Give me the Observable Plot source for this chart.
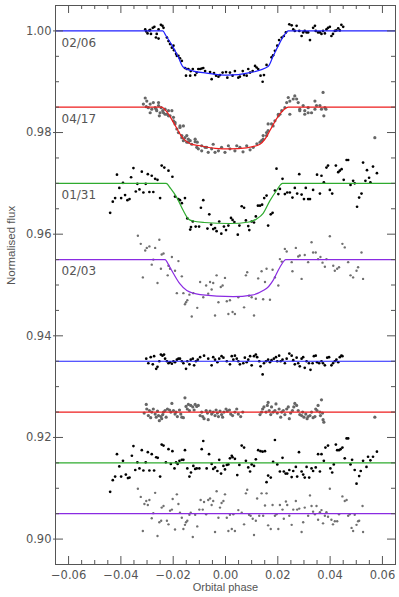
<!DOCTYPE html>
<html>
<head>
<meta charset="utf-8">
<script src="https://cdn.jsdelivr.net/npm/d3@7"></script>
<script src="https://cdn.jsdelivr.net/npm/@observablehq/plot@0.6"></script>
<style>
  html, body { margin: 0; padding: 0; background: #fff; }
  #chart { width: 399px; height: 597px; }
</style>
</head>
<body>
<div id="chart"></div>
<script>
// ---------- data ----------
const nightLabels = ["02/06", "04/17", "01/31", "02/03"];
const curveLevels = [1.000, 0.985, 0.970, 0.955];
const residualLevels = [0.935, 0.925, 0.915, 0.905];

const xMajorTicks = [-0.06, -0.04, -0.02, 0.00, 0.02, 0.04, 0.06];
const xMinorTicks = [-0.065, -0.055, -0.05, -0.045, -0.035, -0.03, -0.025, -0.015, -0.01, -0.005,
                     0.005, 0.01, 0.015, 0.025, 0.03, 0.035, 0.045, 0.05, 0.055, 0.065];
const yMajorTicks = [0.90, 0.92, 0.94, 0.96, 0.98, 1.00];
const yMinorTicks = [0.895, 0.905, 0.91, 0.915, 0.925, 0.93, 0.935, 0.945, 0.95, 0.955, 0.965,
                     0.97, 0.975, 0.985, 0.99, 0.995, 1.005];

// light curve 02/06 (phase, flux)
const data0206 = [[-0.0307,1.0003],[-0.0303,0.9999],[-0.0298,0.9995],[-0.0291,1.0001],[-0.0288,1.0002],[-0.0285,0.9994],[-0.0278,1.0006],[-0.0272,1.0008],[-0.0266,0.9987],[-0.0263,0.9994],[-0.0256,0.9985],[-0.0256,1.0003],[-0.0247,1.0012],[-0.0241,1.0010],[-0.0237,1.0006],[-0.0224,0.9987],[-0.0218,0.9980],[-0.0212,0.9974],[-0.0205,0.9967],[-0.0199,0.9971],[-0.0197,0.9962],[-0.0189,0.9955],[-0.0186,0.9951],[-0.0180,0.9951],[-0.0174,0.9946],[-0.0167,0.9941],[-0.0155,0.9927],[-0.0151,0.9912],[-0.0148,0.9925],[-0.0142,0.9925],[-0.0135,0.9912],[-0.0133,0.9921],[-0.0125,0.9925],[-0.0116,0.9913],[-0.0110,0.9918],[-0.0104,0.9925],[-0.0097,0.9925],[-0.0091,0.9926],[-0.0085,0.9927],[-0.0078,0.9921],[-0.0059,0.9919],[-0.0053,0.9905],[-0.0044,0.9917],[-0.0036,0.9912],[-0.0027,0.9910],[-0.0021,0.9913],[-0.0011,0.9918],[0.0002,0.9919],[0.0007,0.9908],[0.0017,0.9918],[0.0027,0.9912],[0.0036,0.9921],[0.0049,0.9908],[0.0055,0.9910],[0.0066,0.9921],[0.0071,0.9913],[0.0081,0.9912],[0.0087,0.9925],[0.0094,0.9918],[0.0104,0.9921],[0.0113,0.9931],[0.0119,0.9928],[0.0125,0.9925],[0.0134,0.9912],[0.0142,0.9900],[0.0147,0.9913],[0.0157,0.9933],[0.0176,0.9948],[0.0182,0.9952],[0.0189,0.9961],[0.0198,0.9971],[0.0205,0.9982],[0.0215,0.9987],[0.0223,0.9990],[0.0231,0.9997],[0.0244,1.0013],[0.0253,1.0011],[0.0259,1.0003],[0.0265,1.0000],[0.0272,1.0010],[0.0282,1.0000],[0.0291,0.9990],[0.0297,0.9997],[0.0303,1.0000],[0.0310,0.9997],[0.0316,0.9997],[0.0323,0.9982],[0.0335,1.0006],[0.0342,1.0010],[0.0345,1.0000],[0.0354,0.9997],[0.0361,0.9997],[0.0367,0.9994],[0.0373,1.0000],[0.0380,0.9995],[0.0386,1.0003],[0.0392,1.0006],[0.0399,1.0008],[0.0405,0.9990],[0.0411,0.9994],[0.0418,1.0000],[0.0424,1.0001],[0.0431,1.0005],[0.0437,1.0001],[0.0443,1.0012],[0.0450,1.0008]];

// light curve 04/17
const data0417 = [[-0.0314,0.9856],[-0.0307,0.9868],[-0.0303,0.9851],[-0.0301,0.9862],[-0.0295,0.9849],[-0.0288,0.9839],[-0.0288,0.9856],[-0.0282,0.9846],[-0.0276,0.9859],[-0.0269,0.9849],[-0.0265,0.9846],[-0.0263,0.9843],[-0.0256,0.9853],[-0.0256,0.9859],[-0.0253,0.9833],[-0.0250,0.9839],[-0.0246,0.9849],[-0.0240,0.9843],[-0.0237,0.9839],[-0.0231,0.9846],[-0.0231,0.9836],[-0.0224,0.9836],[-0.0218,0.9843],[-0.0218,0.9833],[-0.0212,0.9833],[-0.0205,0.9843],[-0.0199,0.9830],[-0.0199,0.9823],[-0.0193,0.9820],[-0.0193,0.9817],[-0.0186,0.9807],[-0.0180,0.9800],[-0.0174,0.9813],[-0.0174,0.9810],[-0.0167,0.9794],[-0.0167,0.9790],[-0.0161,0.9784],[-0.0161,0.9813],[-0.0155,0.9790],[-0.0148,0.9781],[-0.0148,0.9794],[-0.0142,0.9787],[-0.0142,0.9781],[-0.0135,0.9784],[-0.0129,0.9777],[-0.0116,0.9787],[-0.0116,0.9782],[-0.0110,0.9771],[-0.0108,0.9781],[-0.0104,0.9768],[-0.0091,0.9764],[-0.0091,0.9774],[-0.0078,0.9771],[-0.0072,0.9771],[-0.0066,0.9761],[-0.0053,0.9768],[-0.0047,0.9777],[-0.0040,0.9761],[-0.0027,0.9764],[-0.0015,0.9771],[-0.0002,0.9761],[0.0011,0.9774],[0.0017,0.9768],[0.0036,0.9764],[0.0043,0.9774],[0.0055,0.9771],[0.0067,0.9762],[0.0081,0.9774],[0.0094,0.9766],[0.0106,0.9771],[0.0120,0.9778],[0.0132,0.9781],[0.0138,0.9784],[0.0144,0.9787],[0.0144,0.9794],[0.0157,0.9794],[0.0157,0.9800],[0.0163,0.9804],[0.0163,0.9817],[0.0176,0.9817],[0.0182,0.9813],[0.0189,0.9823],[0.0202,0.9833],[0.0202,0.9836],[0.0208,0.9836],[0.0215,0.9843],[0.0227,0.9849],[0.0234,0.9859],[0.0240,0.9869],[0.0246,0.9836],[0.0246,0.9862],[0.0259,0.9866],[0.0265,0.9872],[0.0272,0.9866],[0.0278,0.9859],[0.0284,0.9846],[0.0284,0.9843],[0.0297,0.9853],[0.0303,0.9843],[0.0303,0.9836],[0.0316,0.9849],[0.0316,0.9839],[0.0329,0.9839],[0.0342,0.9846],[0.0342,0.9862],[0.0348,0.9853],[0.0361,0.9853],[0.0367,0.9846],[0.0373,0.9879],[0.0376,0.9833],[0.0380,0.9849],[0.0384,0.9846],[0.0571,0.9790]];

// light curve 01/31
const data0131 = [[-0.0441,0.9642],[-0.0431,0.9664],[-0.0422,0.9671],[-0.0415,0.9717],[-0.0406,0.9691],[-0.0399,0.9671],[-0.0392,0.9701],[-0.0384,0.9677],[-0.0375,0.9667],[-0.0367,0.9669],[-0.0361,0.9712],[-0.0352,0.9730],[-0.0343,0.9684],[-0.0337,0.9699],[-0.0329,0.9688],[-0.0320,0.9723],[-0.0314,0.9682],[-0.0305,0.9699],[-0.0297,0.9718],[-0.0291,0.9683],[-0.0282,0.9715],[-0.0276,0.9683],[-0.0269,0.9709],[-0.0260,0.9707],[-0.0250,0.9671],[-0.0244,0.9735],[-0.0234,0.9731],[-0.0218,0.9725],[-0.0203,0.9713],[-0.0193,0.9674],[-0.0180,0.9669],[-0.0174,0.9667],[-0.0167,0.9661],[-0.0155,0.9671],[-0.0146,0.9631],[-0.0135,0.9609],[-0.0132,0.9614],[-0.0125,0.9625],[-0.0114,0.9615],[-0.0101,0.9615],[-0.0094,0.9652],[-0.0085,0.9667],[-0.0069,0.9611],[-0.0062,0.9639],[-0.0055,0.9619],[-0.0047,0.9610],[-0.0040,0.9612],[-0.0034,0.9606],[-0.0024,0.9625],[-0.0016,0.9601],[-0.0006,0.9615],[0.0002,0.9608],[0.0011,0.9617],[0.0021,0.9632],[0.0027,0.9628],[0.0034,0.9624],[0.0047,0.9599],[0.0053,0.9617],[0.0062,0.9655],[0.0071,0.9652],[0.0078,0.9627],[0.0087,0.9616],[0.0091,0.9608],[0.0100,0.9625],[0.0109,0.9623],[0.0116,0.9635],[0.0124,0.9656],[0.0132,0.9656],[0.0140,0.9658],[0.0148,0.9671],[0.0157,0.9676],[0.0163,0.9617],[0.0173,0.9639],[0.0180,0.9642],[0.0189,0.9686],[0.0195,0.9729],[0.0202,0.9679],[0.0208,0.9689],[0.0218,0.9709],[0.0227,0.9679],[0.0236,0.9682],[0.0246,0.9682],[0.0256,0.9672],[0.0265,0.9691],[0.0274,0.9680],[0.0282,0.9718],[0.0291,0.9678],[0.0300,0.9669],[0.0307,0.9691],[0.0316,0.9669],[0.0323,0.9669],[0.0335,0.9687],[0.0350,0.9717],[0.0361,0.9680],[0.0367,0.9715],[0.0376,0.9702],[0.0386,0.9731],[0.0392,0.9735],[0.0399,0.9687],[0.0408,0.9680],[0.0422,0.9735],[0.0431,0.9722],[0.0437,0.9725],[0.0444,0.9728],[0.0452,0.9707],[0.0463,0.9746],[0.0469,0.9746],[0.0478,0.9697],[0.0488,0.9705],[0.0494,0.9700],[0.0503,0.9654],[0.0511,0.9672],[0.0520,0.9680],[0.0526,0.9741],[0.0535,0.9705],[0.0541,0.9726],[0.0549,0.9711],[0.0554,0.9702],[0.0564,0.9733],[0.0579,0.9720]];

// light curve 02/03
const data0203 = [[-0.0335,0.9597],[-0.0324,0.9581],[-0.0316,0.9515],[-0.0307,0.9568],[-0.0301,0.9573],[-0.0291,0.9576],[-0.0282,0.9540],[-0.0276,0.9550],[-0.0269,0.9573],[-0.0260,0.9504],[-0.0253,0.9589],[-0.0247,0.9532],[-0.0244,0.9560],[-0.0237,0.9562],[-0.0221,0.9519],[-0.0218,0.9538],[-0.0212,0.9532],[-0.0205,0.9555],[-0.0193,0.9528],[-0.0186,0.9484],[-0.0180,0.9547],[-0.0167,0.9517],[-0.0161,0.9484],[-0.0155,0.9462],[-0.0151,0.9466],[-0.0146,0.9470],[-0.0138,0.9481],[-0.0129,0.9438],[-0.0123,0.9484],[-0.0108,0.9455],[-0.0097,0.9506],[-0.0085,0.9476],[-0.0074,0.9499],[-0.0066,0.9483],[-0.0059,0.9506],[-0.0053,0.9491],[-0.0047,0.9504],[-0.0040,0.9440],[-0.0034,0.9519],[-0.0027,0.9466],[-0.0018,0.9496],[-0.0011,0.9499],[-0.0002,0.9514],[0.0005,0.9468],[0.0011,0.9443],[0.0017,0.9470],[0.0027,0.9447],[0.0036,0.9443],[0.0049,0.9476],[0.0071,0.9456],[0.0078,0.9519],[0.0083,0.9525],[0.0090,0.9479],[0.0100,0.9476],[0.0109,0.9440],[0.0116,0.9473],[0.0125,0.9513],[0.0138,0.9527],[0.0144,0.9472],[0.0151,0.9506],[0.0157,0.9532],[0.0170,0.9471],[0.0180,0.9530],[0.0189,0.9515],[0.0202,0.9499],[0.0208,0.9551],[0.0215,0.9546],[0.0227,0.9571],[0.0234,0.9566],[0.0253,0.9545],[0.0256,0.9527],[0.0269,0.9573],[0.0278,0.9556],[0.0284,0.9558],[0.0291,0.9512],[0.0303,0.9559],[0.0316,0.9545],[0.0329,0.9584],[0.0335,0.9564],[0.0345,0.9564],[0.0354,0.9551],[0.0363,0.9555],[0.0371,0.9544],[0.0380,0.9536],[0.0386,0.9551],[0.0399,0.9596],[0.0412,0.9538],[0.0418,0.9528],[0.0427,0.9532],[0.0434,0.9535],[0.0447,0.9581],[0.0456,0.9574],[0.0469,0.9545],[0.0478,0.9519],[0.0488,0.9515],[0.0501,0.9528],[0.0507,0.9535],[0.0520,0.9564],[0.0526,0.9512]];

// transit models
const model0206 = [[-0.065,1.0],[-0.0240,1.0],[-0.0228,0.9991],[-0.0205,0.9972],[-0.0180,0.9948],[-0.0162,0.9929],[-0.0123,0.9921],[-0.0072,0.9917],[0.0005,0.9913],[0.0094,0.9918],[0.0163,0.9930],[0.0182,0.9950],[0.0208,0.9977],[0.0228,0.9994],[0.0240,1.0],[0.065,1.0]];
const model0417 = [[-0.065,0.985],[-0.0244,0.985],[-0.0228,0.9843],[-0.0199,0.9820],[-0.0175,0.9798],[-0.0161,0.9788],[-0.0135,0.9778],[-0.0097,0.9774],[-0.0040,0.9769],[0.0017,0.9768],[0.0080,0.9770],[0.0132,0.9777],[0.0151,0.9787],[0.0170,0.9804],[0.0195,0.9827],[0.0225,0.9846],[0.0240,0.985],[0.065,0.985]];
const model0131 = [[-0.065,0.970],[-0.0227,0.970],[-0.0210,0.9690],[-0.0186,0.9672],[-0.0161,0.9646],[-0.0142,0.9630],[-0.0125,0.9626],[-0.0080,0.9623],[0.0017,0.9621],[0.0090,0.9624],[0.0119,0.9630],[0.0144,0.9641],[0.0170,0.9666],[0.0195,0.9686],[0.0210,0.9697],[0.0218,0.970],[0.065,0.970]];
const model0203 = [[-0.065,0.955],[-0.0231,0.955],[-0.0218,0.9540],[-0.0205,0.9528],[-0.0174,0.9502],[-0.0148,0.9489],[-0.0097,0.9481],[0.0030,0.9477],[0.0100,0.9480],[0.0144,0.9489],[0.0165,0.9497],[0.0182,0.9509],[0.0208,0.9535],[0.0231,0.955],[0.065,0.955]];

// residuals (offset)
const resid0206 = [[-0.0303,0.9355],[-0.0295,0.9346],[-0.0286,0.9358],[-0.0278,0.9344],[-0.0273,0.9360],[-0.0265,0.9335],[-0.0260,0.9339],[-0.0253,0.9350],[-0.0247,0.9363],[-0.0241,0.9361],[-0.0235,0.9363],[-0.0231,0.9355],[-0.0224,0.9350],[-0.0218,0.9346],[-0.0212,0.9348],[-0.0205,0.9345],[-0.0199,0.9350],[-0.0193,0.9348],[-0.0186,0.9353],[-0.0180,0.9355],[-0.0174,0.9355],[-0.0167,0.9350],[-0.0161,0.9346],[-0.0151,0.9335],[-0.0146,0.9350],[-0.0138,0.9344],[-0.0133,0.9353],[-0.0125,0.9355],[-0.0120,0.9342],[-0.0113,0.9350],[-0.0106,0.9353],[-0.0097,0.9358],[-0.0082,0.9361],[-0.0066,0.9355],[-0.0053,0.9342],[-0.0047,0.9358],[-0.0040,0.9353],[-0.0031,0.9348],[-0.0024,0.9355],[-0.0015,0.9360],[-0.0008,0.9357],[0.0005,0.9350],[0.0017,0.9344],[0.0024,0.9360],[0.0030,0.9353],[0.0036,0.9361],[0.0043,0.9355],[0.0049,0.9350],[0.0055,0.9344],[0.0068,0.9346],[0.0074,0.9357],[0.0081,0.9348],[0.0087,0.9353],[0.0094,0.9360],[0.0100,0.9342],[0.0109,0.9360],[0.0116,0.9363],[0.0121,0.9358],[0.0129,0.9350],[0.0134,0.9340],[0.0142,0.9324],[0.0147,0.9346],[0.0155,0.9350],[0.0163,0.9353],[0.0170,0.9348],[0.0176,0.9352],[0.0185,0.9355],[0.0193,0.9358],[0.0198,0.9350],[0.0205,0.9361],[0.0211,0.9350],[0.0218,0.9353],[0.0227,0.9346],[0.0234,0.9355],[0.0244,0.9365],[0.0253,0.9361],[0.0259,0.9352],[0.0265,0.9344],[0.0272,0.9357],[0.0278,0.9346],[0.0284,0.9340],[0.0291,0.9355],[0.0297,0.9358],[0.0303,0.9337],[0.0310,0.9350],[0.0319,0.9346],[0.0325,0.9333],[0.0333,0.9346],[0.0338,0.9360],[0.0345,0.9361],[0.0350,0.9348],[0.0358,0.9346],[0.0367,0.9350],[0.0373,0.9346],[0.0380,0.9342],[0.0389,0.9357],[0.0396,0.9358],[0.0405,0.9342],[0.0411,0.9346],[0.0418,0.9350],[0.0424,0.9353],[0.0431,0.9348],[0.0437,0.9358],[0.0443,0.9361],[0.0447,0.9360]];

const resid0417 = [[-0.0311,0.9248],[-0.0303,0.9265],[-0.0301,0.9256],[-0.0295,0.9243],[-0.0291,0.9253],[-0.0286,0.9239],[-0.0282,0.9250],[-0.0276,0.9256],[-0.0269,0.9246],[-0.0265,0.9240],[-0.0260,0.9252],[-0.0256,0.9243],[-0.0253,0.9233],[-0.0247,0.9241],[-0.0244,0.9237],[-0.0240,0.9245],[-0.0237,0.9250],[-0.0231,0.9253],[-0.0227,0.9240],[-0.0222,0.9256],[-0.0214,0.9254],[-0.0209,0.9250],[-0.0205,0.9267],[-0.0199,0.9253],[-0.0193,0.9246],[-0.0189,0.9250],[-0.0184,0.9241],[-0.0176,0.9254],[-0.0171,0.9246],[-0.0167,0.9240],[-0.0161,0.9239],[-0.0155,0.9278],[-0.0151,0.9261],[-0.0146,0.9256],[-0.0142,0.9265],[-0.0138,0.9253],[-0.0133,0.9263],[-0.0125,0.9260],[-0.0120,0.9254],[-0.0116,0.9265],[-0.0110,0.9261],[-0.0104,0.9263],[-0.0097,0.9243],[-0.0091,0.9250],[-0.0087,0.9241],[-0.0082,0.9237],[-0.0074,0.9253],[-0.0069,0.9248],[-0.0066,0.9235],[-0.0059,0.9252],[-0.0053,0.9246],[-0.0047,0.9250],[-0.0040,0.9243],[-0.0036,0.9254],[-0.0031,0.9248],[-0.0027,0.9241],[-0.0021,0.9252],[-0.0015,0.9245],[-0.0011,0.9240],[-0.0006,0.9250],[0.0002,0.9256],[0.0007,0.9252],[0.0015,0.9254],[0.0020,0.9246],[0.0027,0.9243],[0.0036,0.9250],[0.0043,0.9256],[0.0049,0.9246],[0.0058,0.9241],[0.0066,0.9250],[0.0132,0.9245],[0.0138,0.9250],[0.0142,0.9256],[0.0147,0.9260],[0.0155,0.9250],[0.0160,0.9263],[0.0163,0.9269],[0.0167,0.9253],[0.0173,0.9245],[0.0176,0.9260],[0.0182,0.9250],[0.0189,0.9253],[0.0193,0.9266],[0.0198,0.9248],[0.0205,0.9256],[0.0211,0.9240],[0.0215,0.9250],[0.0221,0.9253],[0.0227,0.9245],[0.0234,0.9256],[0.0240,0.9260],[0.0244,0.9237],[0.0249,0.9248],[0.0256,0.9253],[0.0261,0.9260],[0.0265,0.9267],[0.0272,0.9263],[0.0278,0.9253],[0.0284,0.9245],[0.0291,0.9243],[0.0295,0.9250],[0.0300,0.9240],[0.0307,0.9246],[0.0312,0.9237],[0.0316,0.9241],[0.0323,0.9243],[0.0329,0.9250],[0.0335,0.9239],[0.0342,0.9241],[0.0345,0.9256],[0.0350,0.9253],[0.0354,0.9263],[0.0361,0.9250],[0.0363,0.9243],[0.0367,0.9274],[0.0371,0.9248],[0.0373,0.9235],[0.0376,0.9230],[0.0571,0.9240]];

const resid0131 = [[-0.0441,0.9093],[-0.0431,0.9116],[-0.0422,0.9123],[-0.0415,0.9167],[-0.0406,0.9143],[-0.0399,0.9123],[-0.0392,0.9154],[-0.0381,0.9127],[-0.0373,0.9120],[-0.0367,0.9121],[-0.0358,0.9164],[-0.0352,0.9183],[-0.0345,0.9136],[-0.0337,0.9151],[-0.0329,0.9139],[-0.0320,0.9175],[-0.0314,0.9135],[-0.0305,0.9151],[-0.0297,0.9171],[-0.0291,0.9135],[-0.0282,0.9167],[-0.0273,0.9135],[-0.0265,0.9161],[-0.0259,0.9160],[-0.0250,0.9123],[-0.0244,0.9186],[-0.0237,0.9184],[-0.0228,0.9151],[-0.0218,0.9177],[-0.0209,0.9148],[-0.0203,0.9173],[-0.0195,0.9139],[-0.0189,0.9151],[-0.0183,0.9148],[-0.0176,0.9154],[-0.0167,0.9156],[-0.0161,0.9156],[-0.0155,0.9175],[-0.0146,0.9139],[-0.0138,0.9123],[-0.0132,0.9131],[-0.0123,0.9144],[-0.0116,0.9138],[-0.0110,0.9139],[-0.0100,0.9139],[-0.0091,0.9177],[-0.0085,0.9193],[-0.0072,0.9139],[-0.0063,0.9167],[-0.0053,0.9148],[-0.0047,0.9138],[-0.0040,0.9141],[-0.0031,0.9134],[-0.0024,0.9156],[-0.0017,0.9129],[-0.0008,0.9144],[-0.0002,0.9137],[0.0005,0.9146],[0.0011,0.9147],[0.0017,0.9159],[0.0024,0.9164],[0.0027,0.9161],[0.0036,0.9158],[0.0045,0.9126],[0.0053,0.9146],[0.0062,0.9184],[0.0071,0.9180],[0.0078,0.9154],[0.0087,0.9141],[0.0094,0.9133],[0.0100,0.9147],[0.0109,0.9144],[0.0116,0.9157],[0.0125,0.9175],[0.0134,0.9173],[0.0142,0.9172],[0.0151,0.9173],[0.0157,0.9112],[0.0163,0.9125],[0.0173,0.9121],[0.0182,0.9152],[0.0189,0.9195],[0.0198,0.9147],[0.0208,0.9133],[0.0218,0.9160],[0.0223,0.9133],[0.0230,0.9129],[0.0236,0.9129],[0.0244,0.9136],[0.0253,0.9122],[0.0259,0.9134],[0.0269,0.9142],[0.0274,0.9123],[0.0281,0.9171],[0.0291,0.9133],[0.0297,0.9127],[0.0303,0.9121],[0.0310,0.9142],[0.0320,0.9121],[0.0329,0.9139],[0.0335,0.9134],[0.0345,0.9141],[0.0354,0.9167],[0.0361,0.9133],[0.0367,0.9167],[0.0376,0.9154],[0.0382,0.9180],[0.0392,0.9184],[0.0401,0.9139],[0.0408,0.9131],[0.0414,0.9147],[0.0422,0.9186],[0.0427,0.9175],[0.0434,0.9175],[0.0440,0.9177],[0.0447,0.9180],[0.0456,0.9159],[0.0463,0.9198],[0.0469,0.9198],[0.0478,0.9147],[0.0484,0.9156],[0.0494,0.9136],[0.0501,0.9109],[0.0511,0.9124],[0.0517,0.9134],[0.0526,0.9154],[0.0539,0.9142],[0.0545,0.9162],[0.0554,0.9155],[0.0564,0.9162],[0.0579,0.9172]];

const resid0203 = [[-0.0335,0.9099],[-0.0324,0.9083],[-0.0316,0.9016],[-0.0310,0.9069],[-0.0303,0.9075],[-0.0297,0.9067],[-0.0291,0.9077],[-0.0282,0.9041],[-0.0276,0.9051],[-0.0269,0.9091],[-0.0260,0.9006],[-0.0253,0.9033],[-0.0246,0.9036],[-0.0244,0.9062],[-0.0237,0.9065],[-0.0224,0.9036],[-0.0218,0.9029],[-0.0212,0.9056],[-0.0205,0.9058],[-0.0202,0.9079],[-0.0193,0.9019],[-0.0186,0.9088],[-0.0180,0.9069],[-0.0174,0.9052],[-0.0167,0.9042],[-0.0161,0.9020],[-0.0155,0.9028],[-0.0151,0.9033],[-0.0146,0.9036],[-0.0138,0.9048],[-0.0133,0.9052],[-0.0125,0.9004],[-0.0116,0.9048],[-0.0108,0.9025],[-0.0100,0.9058],[-0.0095,0.9077],[-0.0087,0.9058],[-0.0082,0.9073],[-0.0074,0.9049],[-0.0066,0.9077],[-0.0059,0.9080],[-0.0053,0.9067],[-0.0047,0.9075],[-0.0040,0.9014],[-0.0034,0.9094],[-0.0027,0.9042],[-0.0021,0.9062],[-0.0015,0.9071],[-0.0008,0.9075],[-0.0002,0.9088],[0.0005,0.9042],[0.0011,0.9016],[0.0017,0.9048],[0.0024,0.9020],[0.0030,0.9049],[0.0036,0.9016],[0.0049,0.9057],[0.0062,0.9052],[0.0071,0.9029],[0.0078,0.9090],[0.0083,0.9097],[0.0090,0.9048],[0.0096,0.9046],[0.0104,0.9040],[0.0109,0.9008],[0.0116,0.9036],[0.0121,0.9080],[0.0129,0.9046],[0.0138,0.9090],[0.0144,0.9046],[0.0151,0.9066],[0.0157,0.9090],[0.0163,0.9027],[0.0173,0.9020],[0.0180,0.9067],[0.0189,0.9046],[0.0195,0.9049],[0.0202,0.9020],[0.0208,0.9067],[0.0218,0.9058],[0.0223,0.9040],[0.0231,0.9074],[0.0236,0.9067],[0.0244,0.9046],[0.0253,0.9028],[0.0259,0.9058],[0.0269,0.9075],[0.0274,0.9058],[0.0282,0.9060],[0.0291,0.9014],[0.0297,0.9033],[0.0303,0.9062],[0.0316,0.9046],[0.0323,0.9086],[0.0329,0.9065],[0.0335,0.9054],[0.0342,0.9049],[0.0348,0.9065],[0.0354,0.9038],[0.0361,0.9053],[0.0367,0.9057],[0.0373,0.9031],[0.0380,0.9046],[0.0386,0.9053],[0.0392,0.9044],[0.0399,0.9099],[0.0405,0.9038],[0.0411,0.9029],[0.0418,0.9035],[0.0427,0.9035],[0.0434,0.9049],[0.0447,0.9084],[0.0456,0.9075],[0.0463,0.9077],[0.0469,0.9046],[0.0475,0.9049],[0.0482,0.9022],[0.0488,0.9016],[0.0494,0.9048],[0.0501,0.9028],[0.0507,0.9035],[0.0511,0.9036],[0.0524,0.9065],[0.0526,0.9014]];

// ---------- drawing ----------
const W = 399, H = 597;
const mL = 55, mR = 4, mT = 5, mB = 33;
const FW = W - mL - mR, FH = H - mT - mB;
const majorLen = 8, minorLen = 4;
const frameColor = "#555";
const textColor = "#555";

const lineColors = ["#1f1fff", "#ee1c1c", "#2eab2e", "#8a2be2"];
const dataSets = [data0206, data0417, data0131, data0203];
const modelSets = [model0206, model0417, model0131, model0203];
const residSets = [resid0206, resid0417, resid0131, resid0203];
const dotFill = ["#000", "#666", "#000", "#707070"];
const dotR = [1.35, 1.6, 1.35, 1.2];

const px = d => d[0], py = d => d[1];
const fmt = d3.format(".2f");

const marks = [];
// data and residual points
dataSets.forEach((s, i) => {
  marks.push(Plot.dot(s, {x: px, y: py, r: dotR[i], fill: dotFill[i], stroke: null}));
  marks.push(Plot.dot(residSets[i], {x: px, y: py, r: dotR[i], fill: dotFill[i], stroke: null}));
});
// models and residual zero lines
modelSets.forEach((m, i) => {
  marks.push(Plot.line(m, {x: px, y: py, stroke: lineColors[i], strokeWidth: 1.2, curve: "monotone-x", clip: true}));
});
marks.push(Plot.ruleY(residualLevels, {y: d => d, stroke: (d, i) => lineColors[i], strokeWidth: 1.2}));

// panel labels
const labelRows = nightLabels.map((t, i) => ({label: t, level: curveLevels[i]}));
marks.push(Plot.text(labelRows, {y: "level", text: "label", frameAnchor: "left", dx: 6, dy: 12,
  textAnchor: "start", fill: textColor, fontSize: 12, fontFamily: "DejaVu Sans", style: "letter-spacing:0.6px"}));

// inward ticks on all four sides
const tickStyle = {stroke: frameColor, strokeWidth: 1};
marks.push(Plot.tickX(xMajorTicks, {x: d => d, insetTop: FH - majorLen, ...tickStyle}));
marks.push(Plot.tickX(xMinorTicks, {x: d => d, insetTop: FH - minorLen, ...tickStyle}));
marks.push(Plot.tickX(xMajorTicks, {x: d => d, insetBottom: FH - majorLen, ...tickStyle}));
marks.push(Plot.tickX(xMinorTicks, {x: d => d, insetBottom: FH - minorLen, ...tickStyle}));
marks.push(Plot.tickY(yMajorTicks, {y: d => d, insetRight: FW - majorLen, ...tickStyle}));
marks.push(Plot.tickY(yMinorTicks, {y: d => d, insetRight: FW - minorLen, ...tickStyle}));
marks.push(Plot.tickY(yMajorTicks, {y: d => d, insetLeft: FW - majorLen, ...tickStyle}));
marks.push(Plot.tickY(yMinorTicks, {y: d => d, insetLeft: FW - minorLen, ...tickStyle}));

// axes labels
marks.push(Plot.axisX({ticks: xMajorTicks, tickFormat: fmt, tickSize: 0, tickPadding: 6, label: null,
  fill: textColor, fontSize: 11.5}));
marks.push(Plot.axisY({ticks: yMajorTicks, tickFormat: fmt, tickSize: 2, tickPadding: 2, label: null,
  fill: textColor, stroke: frameColor, fontSize: 11.5}));
marks.push(Plot.frame({stroke: frameColor, strokeWidth: 1}));

marks.push(Plot.text(["Orbital phase"], {frameAnchor: "bottom", text: d => d, dy: 26,
  fill: textColor, fontSize: 11, fontFamily: "Liberation Sans"}));
marks.push(Plot.text(["Normalised flux"], {frameAnchor: "left", text: d => d, rotate: -90, dx: -44,
  fill: textColor, fontSize: 11.5, fontFamily: "Liberation Sans"}));

const chart = Plot.plot({
  width: W, height: H,
  marginLeft: mL, marginRight: mR, marginTop: mT, marginBottom: mB,
  x: {domain: [-0.065, 0.065]},
  y: {domain: [0.895, 1.005]},
  style: {fontFamily: "DejaVu Sans", fontSize: "11.5px", color: textColor, background: "#fff"},
  marks
});
document.getElementById("chart").appendChild(chart);
</script>
</body>
</html>
